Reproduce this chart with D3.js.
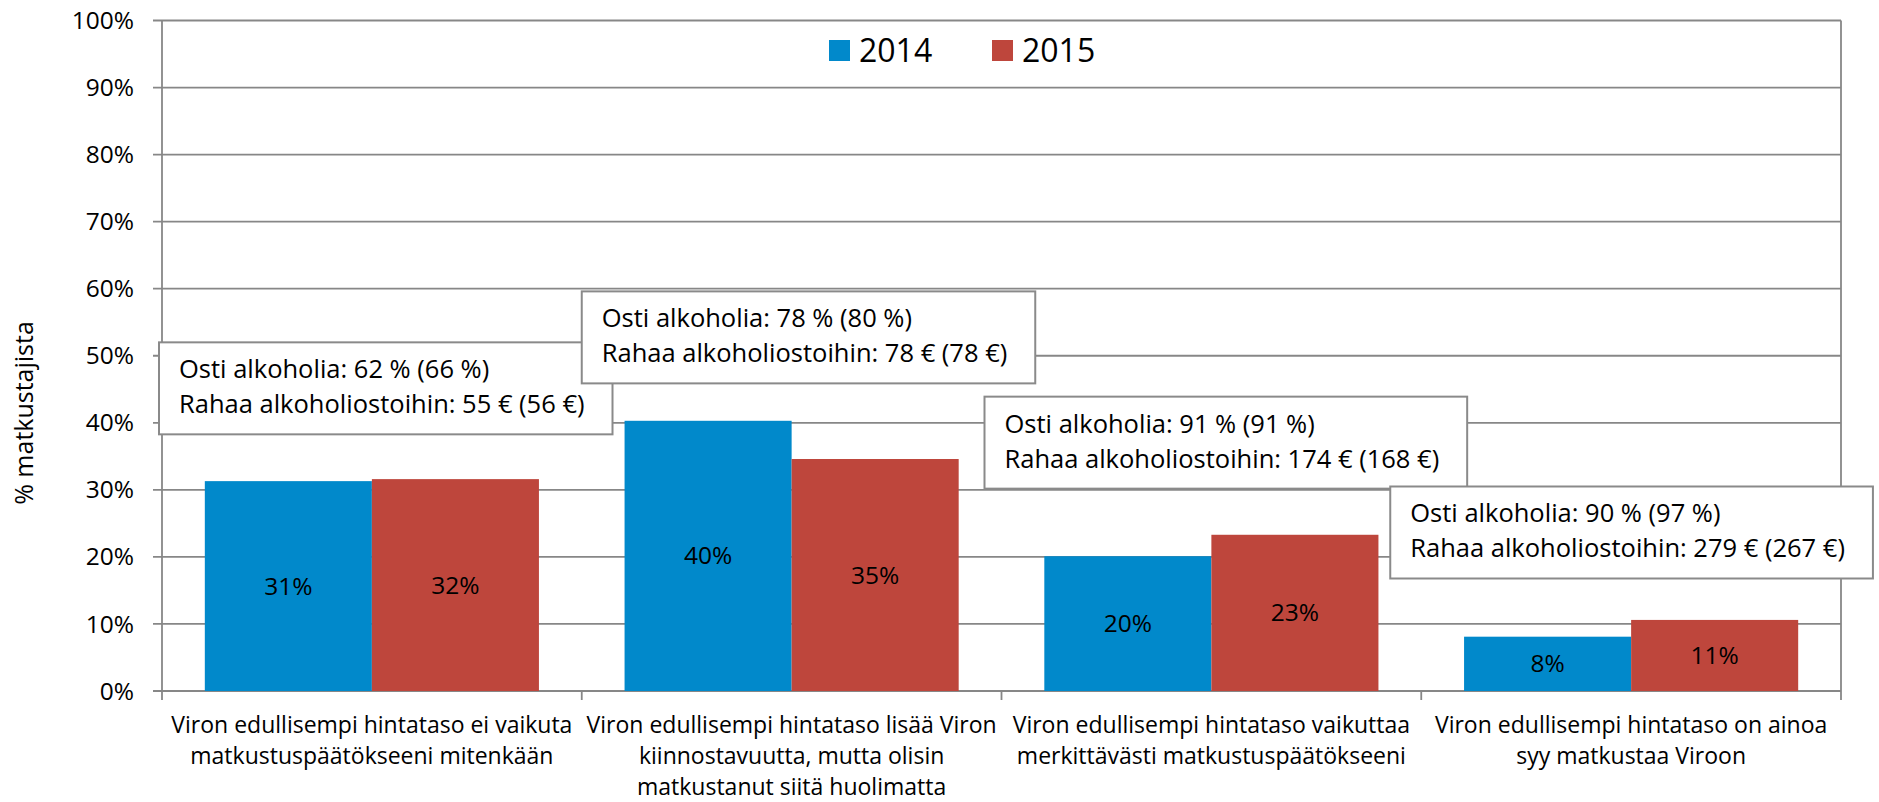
<!DOCTYPE html>
<html>
<head>
<meta charset="utf-8">
<script src="https://cdn.jsdelivr.net/npm/d3@7"></script>
<style>
  body { margin: 0; background: #fff; }
  text { font-family: 'Open Sans', sans-serif; fill: #000; }
</style>
</head>
<body>
<script>
// grouped bar chart with note boxes

let categories = [
  ['Viron edullisempi hintataso ei vaikuta', 'matkustuspäätökseeni mitenkään'],
  ['Viron edullisempi hintataso lisää Viron', 'kiinnostavuutta, mutta olisin', 'matkustanut siitä huolimatta'],
  ['Viron edullisempi hintataso vaikuttaa', 'merkittävästi matkustuspäätökseeni'],
  ['Viron edullisempi hintataso on ainoa', 'syy matkustaa Viroon']
]
let seriesNames = ['2014', '2015']
let values2014 = [31.3, 40.3, 20.1, 8.1]
let values2015 = [31.6, 34.6, 23.3, 10.6]
let yTicks = [0, 10, 20, 30, 40, 50, 60, 70, 80, 90, 100]
// note boxes: bought alcohol %, money spent € (previous year in brackets)
let boughtAlcohol = [62, 78, 91, 90]
let boughtAlcoholPrev = [66, 80, 91, 97]
let moneySpent = [55, 78, 174, 279]
let moneySpentPrev = [56, 78, 168, 267]

let colors = ['#0189cb', '#be463c']

let Chart_Width = 1879
let Chart_Height = 802
let plotLeft = 162
let plotRight = 1841
let plotTop = 20.5
let plotBottom = 691

// layout of the note boxes (offset from band start, top in axis units)
let boxLayout = [
  {dx: -3, top: 52},
  {dx: 0, top: 59.6},
  {dx: -17, top: 43.9},
  {dx: -31, top: 30.5}
]

let svg = d3.select('body').append('svg')
  .attr('width', Chart_Width)
  .attr('height', Chart_Height)

let x0 = d3.scaleBand()
  .domain(d3.range(categories.length))
  .range([plotLeft, plotRight])
let x1 = d3.scaleBand()
  .domain(seriesNames)
  .range([x0.bandwidth() * 0.102, x0.bandwidth() * 0.898])
let y = d3.scaleLinear()
  .domain([0, 100])
  .range([plotBottom, plotTop])

let gridColor = '#878787'

// gridlines
svg.append('g').selectAll('line')
  .data(yTicks)
  .enter()
  .append('line')
  .attr('x1', plotLeft - 9)
  .attr('x2', plotRight)
  .attr('y1', function (d) { return y(d) })
  .attr('y2', function (d) { return y(d) })
  .style('stroke', gridColor)
  .style('stroke-width', 1.8)

// y tick labels
svg.append('g').selectAll('text')
  .data(yTicks)
  .enter()
  .append('text')
  .attr('x', 134)
  .attr('y', function (d) { return y(d) })
  .attr('dy', '0.35em')
  .attr('text-anchor', 'end')
  .attr('font-size', '24.5px')
  .text(function (d) { return d + '%' })

// left axis + right border
svg.append('line')
  .attr('x1', plotLeft).attr('x2', plotLeft)
  .attr('y1', plotTop).attr('y2', plotBottom + 9)
  .style('stroke', gridColor).style('stroke-width', 1.8)
svg.append('line')
  .attr('x1', plotRight).attr('x2', plotRight)
  .attr('y1', plotTop).attr('y2', plotBottom + 9)
  .style('stroke', gridColor).style('stroke-width', 1.8)

// category ticks
svg.append('g').selectAll('line')
  .data(d3.range(1, categories.length))
  .enter()
  .append('line')
  .attr('x1', function (d) { return x0(d) })
  .attr('x2', function (d) { return x0(d) })
  .attr('y1', plotBottom)
  .attr('y2', plotBottom + 9)
  .style('stroke', gridColor)
  .style('stroke-width', 1.8)

// bars
let barData = []
categories.forEach(function (c, i) {
  barData.push({cat: i, series: '2014', value: values2014[i], color: colors[0]})
  barData.push({cat: i, series: '2015', value: values2015[i], color: colors[1]})
})

svg.append('g').selectAll('rect')
  .data(barData)
  .enter()
  .append('rect')
  .attr('x', function (d) { return x0(d.cat) + x1(d.series) })
  .attr('y', function (d) { return y(d.value) })
  .attr('width', x1.bandwidth())
  .attr('height', function (d) { return y(0) - y(d.value) })
  .style('fill', function (d) { return d.color })

// bar value labels
svg.append('g').selectAll('text')
  .data(barData)
  .enter()
  .append('text')
  .attr('x', function (d) { return x0(d.cat) + x1(d.series) + x1.bandwidth() / 2 })
  .attr('y', function (d) { return (y(d.value) + y(0)) / 2 })
  .attr('dy', '0.35em')
  .attr('text-anchor', 'middle')
  .attr('font-size', '24.5px')
  .text(function (d) { return Math.round(d.value) + '%' })

// category labels
let catG = svg.append('g').selectAll('text')
  .data(categories)
  .enter()
  .append('text')
  .attr('text-anchor', 'middle')
  .attr('font-size', '23px')
catG.selectAll('tspan')
  .data(function (d, i) { return d.map(function (line) { return {line: line, cat: i} }) })
  .enter()
  .append('tspan')
  .attr('x', function (d) { return x0(d.cat) + x0.bandwidth() / 2 })
  .attr('y', function (d, j) { return 733 + j * 31 })
  .text(function (d) { return d.line })

// y axis title
svg.append('text')
  .attr('transform', 'translate(33,413) rotate(-90)')
  .attr('text-anchor', 'middle')
  .attr('font-size', '25px')
  .text('% matkustajista')

// note boxes
categories.forEach(function (c, i) {
  let bx = x0(i) + boxLayout[i].dx
  let by = y(boxLayout[i].top)
  let g = svg.append('g')
  let rect = g.append('rect')
    .attr('x', bx)
    .attr('y', by)
    .attr('height', 92)
    .style('fill', '#fff')
    .style('stroke', '#8a8a8a')
    .style('stroke-width', 2)
  let t1 = g.append('text')
    .attr('x', bx + 20)
    .attr('y', by + 36)
    .attr('font-size', '25.5px')
    .text('Osti alkoholia: ' + boughtAlcohol[i] + ' % (' + boughtAlcoholPrev[i] + ' %)')
  let t2 = g.append('text')
    .attr('x', bx + 20)
    .attr('y', by + 71)
    .attr('font-size', '25.5px')
    .text('Rahaa alkoholiostoihin: ' + moneySpent[i] + ' € (' + moneySpentPrev[i] + ' €)')
  let w = Math.max(t1.node().getComputedTextLength(), t2.node().getComputedTextLength())
  rect.attr('width', w + 48)
})

// legend
let legend = svg.append('g').selectAll('g')
  .data(seriesNames)
  .enter()
  .append('g')
  .attr('transform', function (d, i) { return 'translate(' + (829 + i * 163) + ',40)' })
legend.append('rect')
  .attr('width', 21)
  .attr('height', 21)
  .style('fill', function (d, i) { return colors[i] })
legend.append('text')
  .attr('x', 30)
  .attr('y', 22)
  .attr('font-size', '32px')
  .text(function (d) { return d })
</script>
</body>
</html>
